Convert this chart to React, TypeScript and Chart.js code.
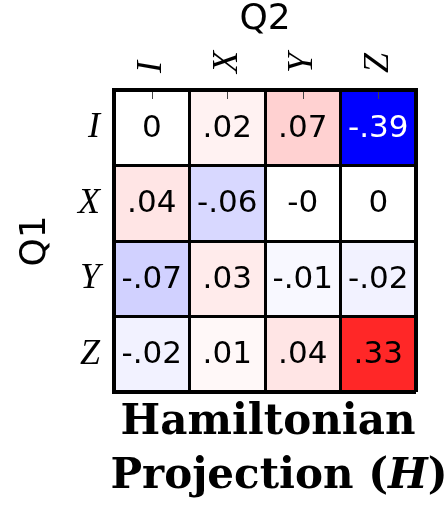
import React, { useEffect, useRef } from 'react';
import { Chart, registerables } from 'chart.js';

Chart.register(...registerables);

// Pauli labels for the two qubits
const q2Labels = ['I', 'X', 'Y', 'Z'];
const q1Labels = ['I', 'X', 'Y', 'Z'];

// Projection coefficients, one array per Q1 row (columns follow Q2)
const rowI = [0, 0.02, 0.07, -0.39];
const rowX = [0.04, -0.06, -0, 0];
const rowY = [-0.07, 0.03, -0.01, -0.02];
const rowZ = [-0.02, 0.01, 0.04, 0.33];
const rows = [rowI, rowX, rowY, rowZ];

const xTitle = 'Q2';
const yTitle = 'Q1';
const captionLine1 = 'Hamiltonian';
const captionLine2 = ['Projection (', 'H', ')'];

const limit = Math.max(...rows.flat().map((v) => Math.abs(v)));

// blue-white-red diverging colormap
function bwr(v: number): [number, number, number] {
  const t = Math.min(1, Math.abs(v) / limit);
  const c = Math.round(255 * (1 - t));
  return v >= 0 ? [255, c, c] : [c, c, 255];
}

function fmt(v: number): string {
  if (v === 0) return Object.is(v, -0) ? '-0' : '0';
  return v.toFixed(2).replace(/^(-?)0\./, '$1.');
}

const cellLabels = {
  id: 'cellLabels',
  afterDatasetsDraw(chart: any) {
    const { ctx } = chart;
    ctx.save();
    ctx.font = '31px "DejaVu Sans"';
    ctx.textAlign = 'center';
    ctx.textBaseline = 'middle';
    rows.forEach((row, r) => {
      const meta = chart.getDatasetMeta(r);
      row.forEach((v, c) => {
        const el = meta.data[c];
        const { x, y } = el.getCenterPoint();
        const [R, G, B] = bwr(v);
        const lum = (0.2126 * R + 0.7152 * G + 0.0722 * B) / 255;
        ctx.fillStyle = lum < 0.25 ? '#ffffff' : '#000000';
        ctx.fillText(fmt(v), x, y + 1);
      });
    });
    ctx.restore();
  },
};

const topTicks = {
  id: 'topTicks',
  afterDraw(chart: any) {
    const { ctx, chartArea } = chart;
    const xs = chart.scales.x;
    ctx.save();
    ctx.strokeStyle = '#444444';
    ctx.lineWidth = 1;
    xs.ticks.forEach((_: any, i: number) => {
      const px = Math.round(xs.getPixelForTick(i)) + 0.5;
      ctx.beginPath();
      ctx.moveTo(px, chartArea.top + 2);
      ctx.lineTo(px, chartArea.top + 9);
      ctx.stroke();
    });
    ctx.restore();
  },
};

const caption = {
  id: 'caption',
  afterDraw(chart: any) {
    const { ctx, chartArea } = chart;
    const cx = (chartArea.left + chartArea.right) / 2;
    const upright = 'bold 42px "DejaVu Serif"';
    const slanted = 'italic bold 42px "DejaVu Serif"';
    ctx.save();
    ctx.fillStyle = '#000000';
    ctx.textBaseline = 'alphabetic';
    ctx.textAlign = 'center';
    ctx.font = upright;
    ctx.fillText(captionLine1, cx + 3, chartArea.bottom + 42);

    const fonts = [upright, slanted, upright];
    const widths = captionLine2.map((t, i) => {
      ctx.font = fonts[i];
      return ctx.measureText(t).width;
    });
    const total = widths.reduce((a, b) => a + b, 0);
    let x = cx + 14 - total / 2;
    ctx.textAlign = 'left';
    captionLine2.forEach((t, i) => {
      ctx.font = fonts[i];
      ctx.fillText(t, x, chartArea.bottom + 96);
      x += widths[i];
    });
    ctx.restore();
  },
};

const edgeWidth = (c: any) => (c.index === undefined || c.index === 0 ? 4 : 3);

const tickFontSize = 36;
const tickLineHeight = 1.2;

export default function App() {
  const canvasRef = useRef<HTMLCanvasElement | null>(null);

  useEffect(() => {
    const canvas = canvasRef.current;
    if (!canvas) return;
    const chart = new Chart(canvas, {
      type: 'bar',
      data: {
        labels: q2Labels,
        datasets: rows.map((row, r) => ({
          label: q1Labels[r],
          data: row.map(() => [r, r + 1] as [number, number]),
          backgroundColor: row.map((v) => {
            const [R, G, B] = bwr(v);
            return `rgb(${R},${G},${B})`;
          }),
          borderWidth: 0,
          barPercentage: 1,
          categoryPercentage: 1,
          grouped: false,
        })),
      },
      options: {
        responsive: false,
        animation: false,
        devicePixelRatio: 1,
        layout: { padding: { left: 0, top: 0, right: 30, bottom: 115 } },
        plugins: {
          legend: { display: false },
          tooltip: { enabled: false },
          title: { display: false },
        },
        scales: {
          x: {
            type: 'category',
            position: 'top',
            offset: true,
            grid: {
              z: 1,
              offset: true,
              color: '#000000',
              lineWidth: edgeWidth,
              drawTicks: false,
            },
            border: { display: true, color: '#000000', width: 4, z: 1 },
            ticks: {
              minRotation: 90,
              maxRotation: 90,
              padding: 17,
              // rotated labels on a top axis sit one line height left of the tick
              labelOffset: tickFontSize * tickLineHeight,
              color: '#000000',
              font: { family: '"Liberation Serif"', style: 'italic', size: tickFontSize, lineHeight: tickLineHeight },
            },
            title: {
              display: true,
              text: xTitle,
              color: '#000000',
              font: { family: '"DejaVu Sans"', size: 36, lineHeight: 1 },
              padding: { top: 2, bottom: 0 },
            },
            afterFit: (scale: any) => {
              scale.height = 90;
            },
          },
          y: {
            type: 'linear',
            position: 'left',
            reverse: true,
            min: 0,
            max: 4,
            afterBuildTicks: (scale: any) => {
              scale.ticks = q1Labels.map((_, i) => ({ value: i + 0.5 }));
            },
            grid: {
              z: 1,
              offset: true,
              color: '#000000',
              lineWidth: edgeWidth,
              drawTicks: false,
            },
            border: { display: true, color: '#000000', width: 4, z: 1 },
            ticks: {
              padding: 14,
              color: '#000000',
              font: { family: '"Liberation Serif"', style: 'italic', size: tickFontSize, lineHeight: tickLineHeight },
              callback: (value: any) => q1Labels[Math.floor(Number(value))] ?? '',
            },
            title: {
              display: true,
              text: yTitle,
              color: '#000000',
              font: { family: '"DejaVu Sans"', size: 36, lineHeight: 1 },
              padding: { top: 18, bottom: 0 },
            },
            afterFit: (scale: any) => {
              scale.width = 114;
            },
          },
        },
      },
      plugins: [cellLabels, topTicks, caption],
    });
    return () => chart.destroy();
  }, []);

  return (
    <div style={{ position: 'absolute', left: 0, top: 0, width: 446, height: 507, background: '#ffffff' }}>
      <canvas ref={canvasRef} width={446} height={507} />
    </div>
  );
}
